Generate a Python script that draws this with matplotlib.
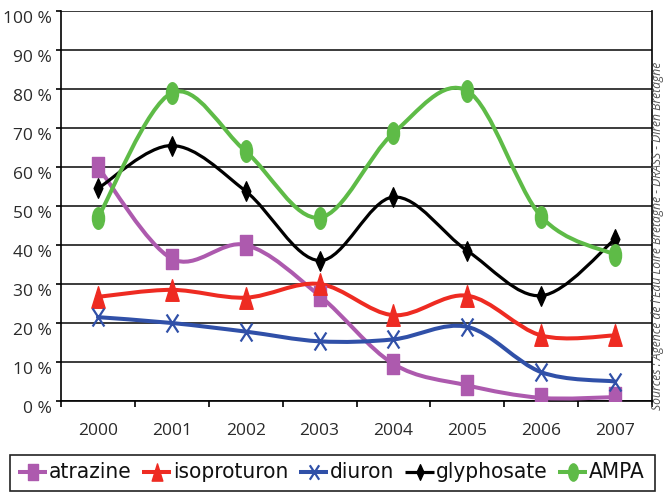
import os
import matplotlib
matplotlib.use("Agg")
import matplotlib.pyplot as plt
from matplotlib import font_manager
from matplotlib.font_manager import FontProperties
from matplotlib.path import Path
from matplotlib.patches import PathPatch, Rectangle
from matplotlib.lines import Line2D
from matplotlib.transforms import ScaledTranslation
from matplotlib.ticker import FixedLocator, NullFormatter
import numpy as np

# ---- data (share of samples, %) ----
years = ["2000", "2001", "2002", "2003", "2004", "2005", "2006", "2007"]
atrazine = [60.0, 36.5, 40.0, 27.0, 9.5, 4.0, 0.8, 1.0]
isoproturon = [26.7, 28.5, 26.5, 30.0, 22.0, 27.0, 16.8, 16.8]
diuron = [21.5, 20.0, 17.8, 15.3, 15.8, 19.0, 7.4, 5.0]
glyphosate = [54.5, 65.5, 53.8, 36.0, 52.3, 38.5, 27.0, 41.5]
ampa = [47.0, 79.0, 64.0, 47.0, 68.7, 79.5, 47.3, 37.5]
ytick_values = list(range(0, 101, 10))
ytick_labels = [f"{v} %" for v in ytick_values]
source_text = "Sources : Agence de l'Eau Loire Bretagne - DRASS - Diren Bretagne"

# ---- marker shapes (tall, slightly narrow) ----
def closed(verts):
    verts = list(verts) + [verts[0]]
    codes = [Path.MOVETO] + [Path.LINETO] * (len(verts) - 2) + [Path.CLOSEPOLY]
    return Path(verts, codes)

m_square = closed([(-0.6, -1), (0.6, -1), (0.6, 1), (-0.6, 1)])
m_triangle = closed([(-0.62, -1), (0.62, -1), (0, 1)])
m_diamond = closed([(0, -1), (0.45, 0), (0, 1), (-0.45, 0)])
m_cross = Path([(-0.65, -1), (0.65, 1), (-0.65, 1), (0.65, -1)],
               [Path.MOVETO, Path.LINETO, Path.MOVETO, Path.LINETO])
circ = Path.unit_circle()
m_ellipse = Path(circ.vertices * np.array([0.56, 1.0]), circ.codes)

series = [
    ("atrazine", atrazine, "#AD5AAE", m_square, 14.0, 2.9, True),
    ("isoproturon", isoproturon, "#EE2B22", m_triangle, 15.5, 2.9, True),
    ("diuron", diuron, "#3050A8", m_cross, 13.0, 2.9, False),
    ("glyphosate", glyphosate, "#000000", m_diamond, 14.0, 2.3, True),
    ("AMPA", ampa, "#5EBB47", m_ellipse, 15.5, 2.9, True),
]


def smooth_path(x, y, t=1.0 / 6.0):
    """Cubic Bezier path through the points (Catmull-Rom style smoothing)."""
    x = np.asarray(x, float)
    y = np.asarray(y, float)
    n = len(x)
    verts = [(x[0], y[0])]
    codes = [Path.MOVETO]
    for i in range(n - 1):
        a = i - 1 if i > 0 else i
        d = i + 2 if i + 2 < n else i + 1
        c1 = (x[i] + (x[i + 1] - x[a]) * t, y[i] + (y[i + 1] - y[a]) * t)
        c2 = (x[i + 1] - (x[d] - x[i]) * t, y[i + 1] - (y[d] - y[i]) * t)
        verts += [c1, c2, (x[i + 1], y[i + 1])]
        codes += [Path.CURVE4] * 3
    return Path(verts, codes)


# ---- legend font: a narrow, regular-weight face if one is installed ----
def pick_legend_font():
    candidates = []
    for f in font_manager.fontManager.ttflist:
        base = os.path.basename(f.fname).lower()
        if "bold" in base or "italic" in base or "oblique" in base:
            continue
        if any(k in base for k in ("narrow", "condensed")):
            candidates.append(f.fname)
    if candidates:
        pref = ("liberationsansnarrow", "dejavusanscondensed", "roboto", "opensans", "noto")
        candidates.sort(key=lambda p: next((i for i, k in enumerate(pref)
                                            if k in os.path.basename(p).lower().replace("-", "")), 99))
        return FontProperties(fname=candidates[0])
    return FontProperties(family=["Open Sans", "DejaVu Sans"])


legend_fp = pick_legend_font()
tick_font = ["Open Sans", "DejaVu Sans"]

W, H = 664, 492
fig = plt.figure(figsize=(W / 100, H / 100), dpi=100)
fig.patch.set_facecolor("white")
ax = fig.add_axes([61 / W, (H - 401) / H, (652 - 61) / W, (401 - 11) / H])

xs = np.arange(len(years))
for name, vals, color, mk, ms, lw, filled in series:
    patch = PathPatch(smooth_path(xs, vals), facecolor="none", edgecolor=color,
                      lw=lw, capstyle="round", joinstyle="round", zorder=3)
    ax.add_patch(patch)
    ax.plot(xs, vals, linestyle="none", marker=mk, markersize=ms,
            markerfacecolor=color if filled else "none",
            markeredgecolor=color, markeredgewidth=1.0 if filled else 1.6,
            zorder=4)

ax.set_xlim(-0.5, len(years) - 0.5)
ax.set_ylim(0, 100)

ax.set_yticks(ytick_values)
ax.set_yticklabels(ytick_labels, fontfamily=tick_font, fontsize=12.5, color="#2a2a2a")
ax.set_xticks(xs)
ax.set_xticklabels(years, fontfamily=tick_font, fontsize=12.5, color="#2a2a2a")
ax.xaxis.set_minor_locator(FixedLocator(np.arange(-0.5, len(years), 1.0)))
ax.xaxis.set_minor_formatter(NullFormatter())
ax.tick_params(axis="x", which="major", length=0, pad=15.5)
ax.tick_params(axis="x", which="minor", length=4.5, width=1.2, color="black")
ax.tick_params(axis="y", length=3.6, width=1.2, color="black", pad=3)

offset = ScaledTranslation(0, -0.06, fig.dpi_scale_trans)
for tick in ax.yaxis.get_major_ticks():
    tick.label1.set_transform(tick.label1.get_transform() + offset)

ax.grid(axis="y", color="#1a1a1a", lw=1.2, zorder=1)
ax.set_axisbelow(True)
for side in ("left", "bottom", "right"):
    ax.spines[side].set_color("black")
    ax.spines[side].set_linewidth(1.2)
ax.spines["top"].set_visible(False)

# ---- overlay in pixel coordinates for the legend and the source note ----
ov = fig.add_axes([0, 0, 1, 1], facecolor="none")
ov.set_xlim(0, W)
ov.set_ylim(H, 0)
ov.set_axis_off()

renderer = fig.canvas.get_renderer()


def fit_size(text_artist, target_px, start):
    """Scale a text's font size so that its long side spans target_px."""
    text_artist.set_fontsize(start)
    bb = text_artist.get_window_extent(renderer)
    span = max(bb.width, bb.height)
    text_artist.set_fontsize(start * target_px / span)


note = ov.text(658, 410, source_text, rotation=90, ha="center", va="bottom",
               style="italic", color="#555555", family=tick_font)
fit_size(note, 350, 8)

ov.add_patch(Rectangle((10, 455), 645, 35.5, facecolor="white", edgecolor="#222222",
                       lw=1.2, zorder=5))

# legend row: handle, label, gap ... laid out left to right between x0 and x1
x0, x1, ly = 18, 645, 472
handle_len, text_gap = 29, 2
labels = [s[0] for s in series]
probe = ov.text(0, 0, "".join(labels), fontproperties=legend_fp)
fit_size(probe, 430, 16)
leg_size = min(probe.get_fontsize(), 16.5)
probe.remove()

texts = []
for name in labels:
    t = ov.text(0, ly, name, ha="left", va="center", color="#111111", zorder=7,
                fontproperties=legend_fp)
    t.set_fontsize(leg_size)
    texts.append(t)
widths = [t.get_window_extent(renderer).width for t in texts]
gap = (x1 - x0 - len(labels) * (handle_len + text_gap) - sum(widths)) / (len(labels) - 1)

x = x0
for (name, _, color, mk, ms, lw, filled), t, w in zip(series, texts, widths):
    ov.add_line(Line2D([x, x + handle_len], [ly, ly], color=color, lw=lw, zorder=6,
                       solid_capstyle="butt"))
    ov.add_line(Line2D([x + handle_len / 2], [ly], linestyle="none", marker=mk,
                       markersize=ms * 0.8, markerfacecolor=color if filled else "none",
                       markeredgecolor=color, markeredgewidth=1.0 if filled else 1.6,
                       zorder=6))
    t.set_x(x + handle_len + text_gap)
    x += handle_len + text_gap + w + gap

fig.savefig("out.png", dpi=100, facecolor="white")
